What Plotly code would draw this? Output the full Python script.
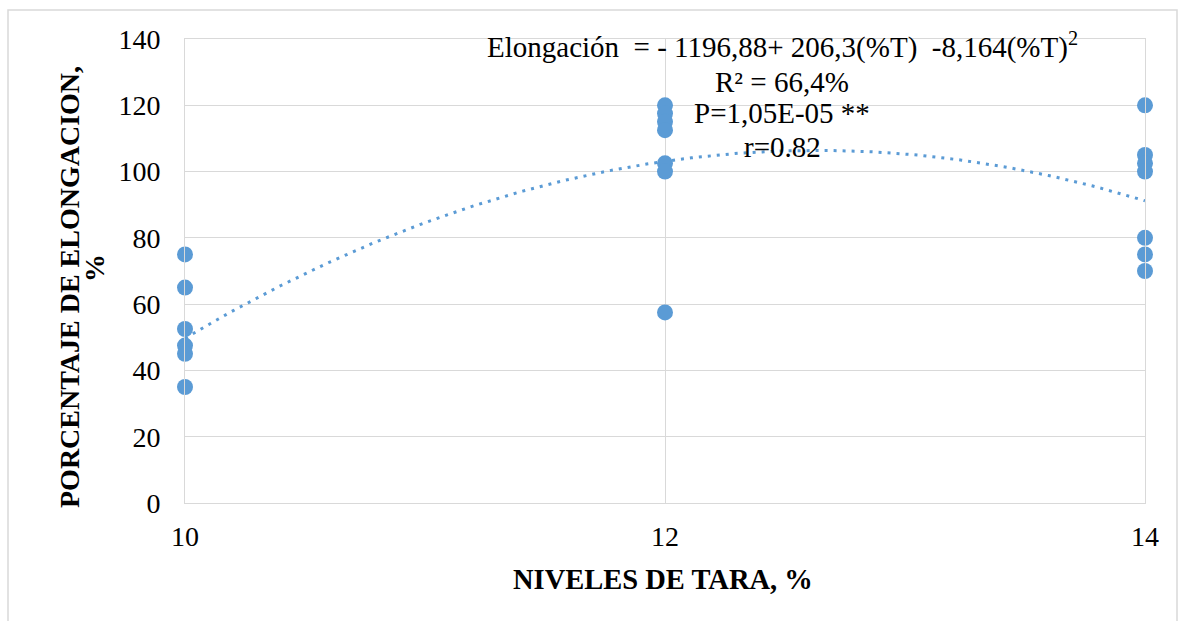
import numpy as np
import plotly.graph_objects as go

# Data
tara_levels = [10, 10, 10, 10, 10, 10,
               12, 12, 12, 12, 12, 12, 12,
               14, 14, 14, 14, 14, 14, 14]
elongation = [75, 65, 52.5, 47.5, 45, 35,
              120, 117.5, 115, 112.5, 102.5, 100, 57.5,
              120, 105, 102.5, 100, 80, 75, 70]

# Polynomial trend coefficients shown on the chart (c0 + c1*x + c2*x^2)
trend_coef = [-1196.88, 206.3, -8.164]
x_ticks = [10, 12, 14]
y_ticks = [0, 20, 40, 60, 80, 100, 120, 140]

equation_lines = [
    "Elongación&nbsp;&nbsp;= - 1196,88+ 206,3(%T)&nbsp;&nbsp;-8,164(%T)<sup>2</sup>",
    "R² = 66,4%",
    "P=1,05E-05 **",
    "r=0.82",
]

FONT = "Times New Roman, Liberation Serif, serif"
BLUE = "#5B9BD5"
GRID = "#D9D9D9"

xt = np.linspace(10, 14, 200)
yt = trend_coef[0] + trend_coef[1] * xt + trend_coef[2] * xt ** 2

fig = go.Figure()
fig.add_trace(go.Scatter(
    x=xt, y=yt, mode="lines",
    line=dict(color=BLUE, width=3, dash="3px,6px"),
    hoverinfo="skip", showlegend=False,
))
fig.add_trace(go.Scatter(
    x=tara_levels, y=elongation, mode="markers",
    marker=dict(color=BLUE, size=16, line=dict(width=0)),
    cliponaxis=False, showlegend=False,
))

W, H = 1178, 621
L, R, T, B = 185, 33, 39, 118
pw, ph = W - L - R, H - T - B

def px2paper_x(px):
    return (px - L) / pw

def px2paper_y(py):
    return (H - B - py) / ph

annotations = []
for line, yc in zip(equation_lines, [46, 82, 113, 147]):
    annotations.append(dict(
        xref="paper", yref="paper", x=px2paper_x(782), y=px2paper_y(yc),
        xanchor="center", yanchor="middle", showarrow=False,
        text=line, font=dict(family=FONT, size=29, color="black")))
annotations += [
    dict(xref="paper", yref="paper", x=px2paper_x(663), y=px2paper_y(579),
         xanchor="center", yanchor="middle", showarrow=False,
         text="<b>NIVELES DE TARA, %</b>",
         font=dict(family=FONT, size=28.5, color="black")),
    dict(xref="paper", yref="paper", x=px2paper_x(69), y=px2paper_y(287),
         xanchor="center", yanchor="middle", showarrow=False, textangle=-90,
         text="<b>PORCENTAJE DE ELONGACION,</b>",
         font=dict(family=FONT, size=28, color="black")),
    dict(xref="paper", yref="paper", x=px2paper_x(94), y=px2paper_y(268),
         xanchor="center", yanchor="middle", showarrow=False, textangle=-90,
         text="<b>%</b>",
         font=dict(family=FONT, size=28, color="black")),
]

fig.update_layout(
    width=W, height=H,
    margin=dict(l=L, r=R, t=T, b=B, pad=0),
    paper_bgcolor="white", plot_bgcolor="white",
    font=dict(family=FONT, size=28, color="black"),
    xaxis=dict(range=[10, 14], tickvals=x_ticks, ticktext=[str(v) for v in x_ticks],
               showgrid=True, gridcolor=GRID, gridwidth=1, zeroline=False,
               showline=True, mirror=True, linecolor=GRID, linewidth=1,
               ticks="", ticklabelstandoff=8,
               tickfont=dict(family=FONT, size=28, color="black")),
    yaxis=dict(range=[0, 140], tickvals=y_ticks, ticktext=[str(v) for v in y_ticks],
               showgrid=True, gridcolor=GRID, gridwidth=1, zeroline=False,
               showline=True, mirror=True, linecolor=GRID, linewidth=1,
               ticks="", ticklabelstandoff=18,
               tickfont=dict(family=FONT, size=28, color="black")),
    shapes=[dict(type="rect", xref="paper", yref="paper",
                 x0=px2paper_x(8), x1=px2paper_x(1177),
                 y0=px2paper_y(660), y1=px2paper_y(10),
                 line=dict(color=GRID, width=1.5), fillcolor="rgba(0,0,0,0)",
                 layer="below")],
    annotations=annotations,
)

fig.write_html("out.html", config={"displayModeBar": False},
               post_script="document.body.style.margin='0';")
